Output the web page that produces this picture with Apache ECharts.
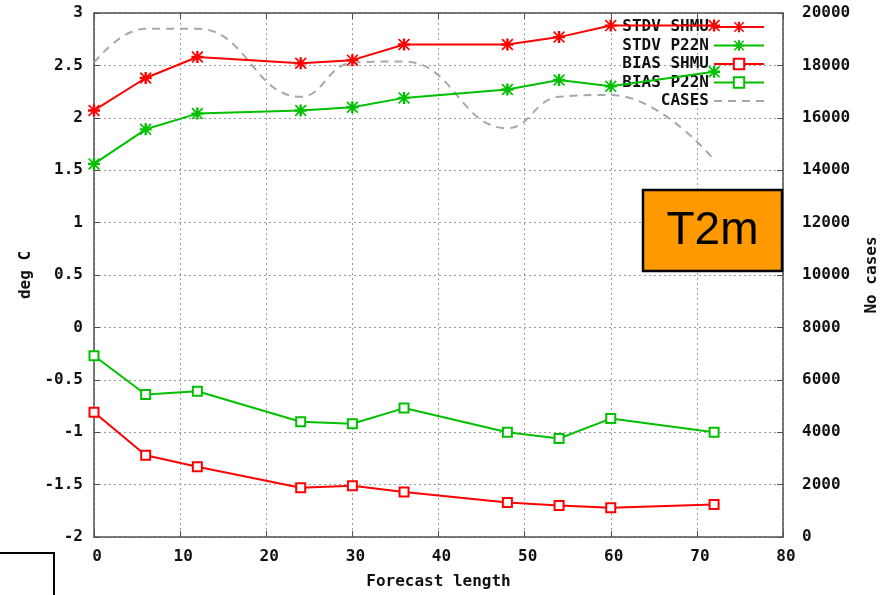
<!DOCTYPE html>
<html><head><meta charset="utf-8">
<script src="https://cdn.jsdelivr.net/npm/echarts@6/dist/echarts.min.js"></script>
<style>html,body{margin:0;padding:0;background:#fff}#c{width:890px;height:595px}</style>
</head><body><div id="c"></div>
<script>
const hours = [0, 6, 12, 24, 30, 36, 48, 54, 60, 72];
const stdvShmu = [2.07, 2.38, 2.58, 2.52, 2.55, 2.70, 2.70, 2.77, 2.88, 2.88];
const stdvP22n = [1.56, 1.89, 2.04, 2.07, 2.10, 2.19, 2.27, 2.36, 2.30, 2.44];
const biasShmu = [-0.81, -1.22, -1.33, -1.53, -1.51, -1.57, -1.67, -1.70, -1.72, -1.69];
const biasP22n = [-0.27, -0.64, -0.61, -0.90, -0.92, -0.77, -1.00, -1.06, -0.87, -1.00];
const cases = [18100, 19400, 19400, 16800, 18100, 18150, 15600, 16800, 16870, 14400];
const seriesNames = ['STDV SHMU', 'STDV P22N', 'BIAS SHMU', 'BIAS P22N', 'CASES'];

const RED = '#ff0000', GREEN = '#00c000', GREY = '#a8a8a8', FRAME = '#505050';
const MONO = 'DejaVu Sans Mono';
const STAR = 'path://M0,4 L10,4 L10,6 L0,6 Z M4,0 L6,0 L6,10 L4,10 Z M1,0 L10,9 L9,10 L0,1 Z M9,0 L10,1 L1,10 L0,9 Z';
const pts = arr => hours.map((h, i) => [h, arr[i]]);
const labelStyle = {fontFamily: MONO, fontWeight: 'bold', fontSize: 16, color: '#111'};

const chart = echarts.init(document.getElementById('c'), null, {renderer: 'canvas'});
chart.setOption({
  animation: false,
  grid: {left: 94, right: 107, top: 13, bottom: 58},
  legend: {
    orient: 'vertical', right: 125, top: 19, align: 'right', padding: 0,
    itemWidth: 50, itemHeight: 13, itemGap: 2.5,
    data: seriesNames.map(n => n === 'CASES'
      ? {name: n, itemStyle: {color: 'rgba(0,0,0,0)', borderWidth: 0}}
      : {name: n}),
    formatter: n => n.padStart(9, ' '),
    textStyle: labelStyle
  },
  xAxis: [{
    type: 'value', min: 0, max: 80, interval: 10, position: 'bottom',
    name: 'Forecast length', nameLocation: 'middle', nameGap: 37,
    nameTextStyle: labelStyle,
    axisLine: {show: true, onZero: false, lineStyle: {color: FRAME, width: 1.5}},
    axisTick: {show: true, inside: true, length: 6, lineStyle: {color: FRAME}},
    axisLabel: {...labelStyle, margin: 12, padding: [0, 0, 0, 6]},
    splitLine: {show: true, lineStyle: {color: '#9a9a9a', type: [2, 3], width: 1}}
  }, {
    type: 'value', min: 0, max: 80, interval: 10, position: 'top',
    axisLine: {show: true, onZero: false, lineStyle: {color: FRAME, width: 1.5}},
    axisTick: {show: true, inside: true, length: 6, lineStyle: {color: FRAME}},
    axisLabel: {show: false}, splitLine: {show: false}
  }],
  yAxis: [{
    type: 'value', min: -2, max: 3, interval: 0.5, position: 'left',
    name: 'deg C', nameLocation: 'middle', nameGap: 53, nameRotate: 90,
    nameTextStyle: labelStyle,
    axisLine: {show: true, onZero: false, lineStyle: {color: FRAME, width: 1.5}},
    axisTick: {show: true, inside: true, length: 6, lineStyle: {color: FRAME}},
    axisLabel: {...labelStyle, margin: 11},
    splitLine: {show: true, lineStyle: {color: '#9a9a9a', type: [2, 3], width: 1}}
  }, {
    type: 'value', min: 0, max: 20000, interval: 2000, position: 'right',
    name: 'No cases', nameLocation: 'middle', nameGap: 81, nameRotate: 90,
    nameTextStyle: labelStyle,
    axisLine: {show: true, onZero: false, lineStyle: {color: FRAME, width: 1.5}},
    axisTick: {show: true, inside: true, length: 6, lineStyle: {color: FRAME}},
    axisLabel: {...labelStyle, margin: 19, formatter: v => String(v)},
    splitLine: {show: false}
  }],
  series: [
    {name: 'STDV SHMU', type: 'line', data: pts(stdvShmu), symbol: STAR, symbolSize: 12,
     lineStyle: {color: RED, width: 2}, itemStyle: {color: RED}, z: 5},
    {name: 'STDV P22N', type: 'line', data: pts(stdvP22n), symbol: STAR, symbolSize: 12,
     lineStyle: {color: GREEN, width: 2}, itemStyle: {color: GREEN}, z: 5},
    {name: 'BIAS SHMU', type: 'line', data: pts(biasShmu), symbol: 'rect', symbolSize: 9,
     lineStyle: {color: RED, width: 2}, itemStyle: {color: '#fff', borderColor: RED, borderWidth: 2}, z: 5},
    {name: 'BIAS P22N', type: 'line', data: pts(biasP22n), symbol: 'rect', symbolSize: 9,
     lineStyle: {color: GREEN, width: 2}, itemStyle: {color: '#fff', borderColor: GREEN, borderWidth: 2}, z: 5},
    {name: 'CASES', type: 'line', yAxisIndex: 1, data: pts(cases), symbol: 'none', smooth: 0.45,
     lineStyle: {color: GREY, width: 2, type: [8, 6]}, itemStyle: {color: GREY}, z: 3}
  ],
  graphic: [
    {type: 'rect', shape: {x: 643, y: 190, width: 139, height: 81}, z: 100,
     style: {fill: '#ff9900', stroke: '#000', lineWidth: 2.5}},
    {type: 'text', x: 712.5, y: 231, z: 101,
     style: {text: 'T2m', fill: '#000', font: '46px "Liberation Sans"', textAlign: 'center', textVerticalAlign: 'middle'}},
    {type: 'polyline', shape: {points: [[0, 553], [54, 553], [54, 600]]}, z: 100,
     style: {stroke: '#000', lineWidth: 2, fill: null}}
  ]
});
</script></body></html>
